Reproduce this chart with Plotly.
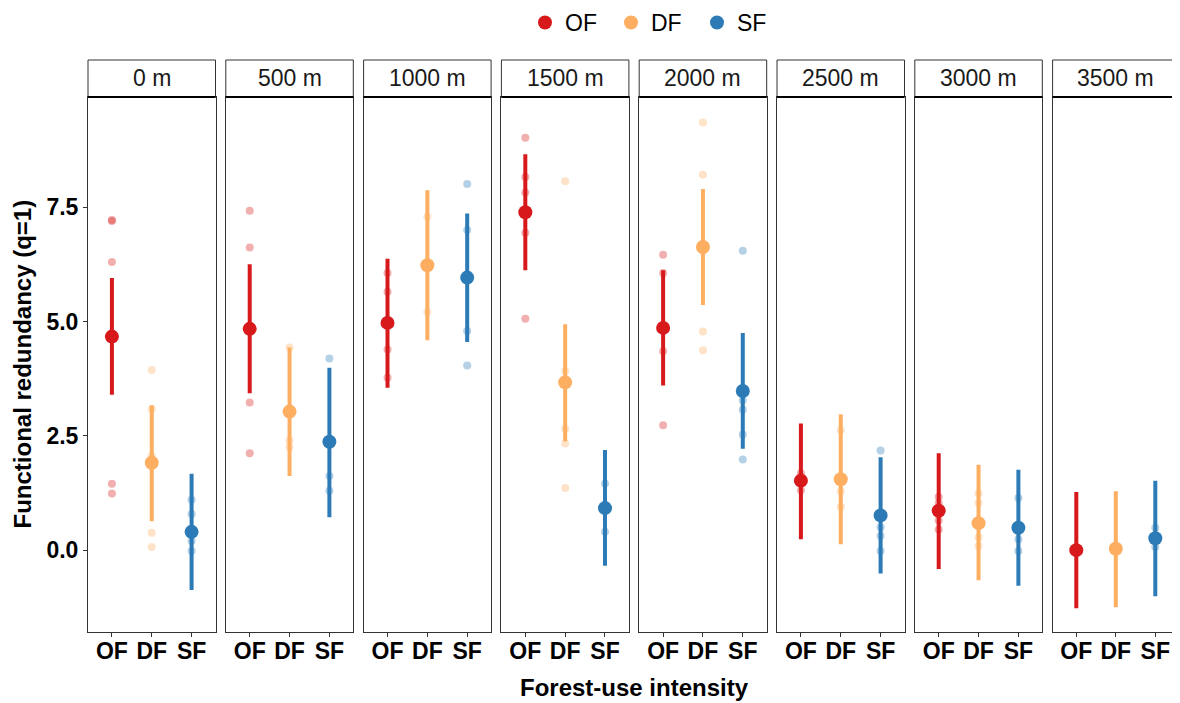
import plotly.graph_objects as go

# ---------------- data ----------------
distances = ["0 m", "500 m", "1000 m", "1500 m", "2000 m", "2500 m", "3000 m", "3500 m"]
groups = ["OF", "DF", "SF"]

mean_OF = [4.67, 4.84, 4.97, 7.39, 4.86, 1.52, 0.86, 0.00]
lo_OF = [3.40, 3.43, 3.55, 6.12, 3.60, 0.24, -0.41, -1.27]
hi_OF = [5.95, 6.25, 6.37, 8.66, 6.12, 2.77, 2.12, 1.27]

mean_DF = [1.91, 3.03, 6.23, 3.67, 6.63, 1.55, 0.59, 0.03]
lo_DF = [0.63, 1.62, 4.59, 2.38, 5.36, 0.13, -0.66, -1.25]
hi_DF = [3.17, 4.43, 7.87, 4.94, 7.90, 2.97, 1.87, 1.29]

mean_SF = [0.40, 2.37, 5.96, 0.92, 3.48, 0.76, 0.49, 0.26]
lo_SF = [-0.87, 0.72, 4.55, -0.34, 2.22, -0.51, -0.78, -1.01]
hi_SF = [1.67, 3.99, 7.36, 2.19, 4.75, 2.03, 1.76, 1.52]

raw_OF = [
    [7.22, 7.20, 6.30, 1.45, 1.24],
    [7.42, 6.62, 3.23, 2.12],
    [6.06, 5.65, 4.39, 3.77],
    [9.02, 8.16, 7.82, 6.94, 5.06],
    [6.46, 6.06, 4.35, 2.73],
    [1.68, 1.60, 1.31],
    [1.16, 1.03, 0.65, 0.45],
    [0.00, 0.00],
]
raw_DF = [
    [3.94, 3.08, 2.06, 0.38, 0.07],
    [4.43, 2.40, 2.25],
    [7.29, 5.21],
    [8.07, 3.92, 2.65, 2.33, 1.36],
    [9.35, 8.21, 6.55, 4.78, 4.37],
    [2.62, 1.48, 1.29, 0.95],
    [1.24, 1.03, 0.28, 0.09],
    [0.03],
]
raw_SF = [
    [1.10, 0.79, 0.20, -0.02],
    [4.19, 1.62, 1.30],
    [8.01, 7.00, 4.79, 4.04],
    [1.46, 0.40],
    [6.55, 3.28, 3.07, 2.53, 1.98],
    [2.18, 0.50, 0.31, -0.02],
    [1.14, 0.24, -0.02],
    [0.49, 0.07],
]

y_ticks = [0.0, 2.5, 5.0, 7.5]
y_tick_text = ["0.0", "2.5", "5.0", "7.5"]

# ---------------- style ----------------
colors = {"OF": "#D7191C", "DF": "#FDAE61", "SF": "#2C7BB6"}
W, H = 1180, 703
OFF = 8  # default page body margin
FONT = "Liberation Sans, Arial, sans-serif"
AXCOL = "#333333"

series = {
    "OF": (mean_OF, lo_OF, hi_OF, raw_OF),
    "DF": (mean_DF, lo_DF, hi_DF, raw_DF),
    "SF": (mean_SF, lo_SF, hi_SF, raw_SF),
}


def px_x(x):
    return min(max((x - OFF) / W, 0.0), 1.0)


def px_y(y):
    return min(max(1 - (y - OFF) / H, 0.0), 1.0)


panel_left0 = 88.0
panel_pitch = 137.8
panel_w = 127.5
panel_top, panel_bot = 97.0, 632.0
strip_top = 60.0

fig = go.Figure()
layout = {}
shapes = []
annotations = []

for i, dist in enumerate(distances):
    n = "" if i == 0 else str(i + 1)
    xa, ya = "x" + n, "y" + n
    x0 = panel_left0 + i * panel_pitch
    x1 = min(x0 + panel_w, 1179)
    layout["xaxis" + n] = dict(
        domain=[px_x(x0), px_x(x1)],
        anchor=ya,
        type="category",
        categoryorder="array",
        categoryarray=groups,
        range=[-0.6, 2.6],
        showline=True, mirror=True, linecolor=AXCOL, linewidth=1,
        ticks="outside", ticklen=4, tickcolor=AXCOL, tickwidth=1,
        ticklabelstandoff=-6,
        tickfont=dict(family=FONT, size=23, color="black", weight="bold"),
        showgrid=False, zeroline=False, fixedrange=True,
    )
    layout["yaxis" + n] = dict(
        domain=[px_y(panel_bot), px_y(panel_top)],
        anchor=xa,
        range=[-1.79, 9.91],
        showline=True, mirror=True, linecolor=AXCOL, linewidth=1,
        ticks="outside" if i == 0 else "", ticklen=4, tickcolor=AXCOL,
        tickvals=y_ticks, ticktext=y_tick_text,
        showticklabels=(i == 0),
        tickfont=dict(family=FONT, size=23, color="black", weight="bold"),
        showgrid=False, zeroline=False, fixedrange=True,
    )
    if i > 0:
        layout["yaxis" + n]["matches"] = "y"

    # strip box
    shapes.append(dict(type="rect", xref="paper", yref="paper",
                       x0=px_x(x0), x1=px_x(x1), y0=px_y(panel_top), y1=px_y(strip_top),
                       fillcolor="white", line=dict(color=AXCOL, width=1), layer="below"))
    shapes.append(dict(type="line", xref="paper", yref="paper",
                       x0=px_x(x0), x1=px_x(x1), y0=px_y(panel_top), y1=px_y(panel_top),
                       line=dict(color="black", width=2)))
    annotations.append(dict(text=dist, xref="paper", yref="paper",
                            x=px_x((x0 + x1) / 2), y=px_y((strip_top + panel_top) / 2),
                            xanchor="center", yanchor="middle", showarrow=False,
                            font=dict(family=FONT, size=23, color="#1a1a1a")))

    for g in groups:
        mean, lo, hi, raw = series[g]
        pts = raw[i]
        fig.add_trace(go.Scatter(
            x=[g] * len(pts), y=pts, xaxis=xa, yaxis=ya, mode="markers",
            marker=dict(color=colors[g], size=8, opacity=0.35, line=dict(width=0)),
            showlegend=False, hoverinfo="y"))
        fig.add_trace(go.Scatter(
            x=[g], y=[mean[i]], xaxis=xa, yaxis=ya, mode="markers",
            marker=dict(color=colors[g], size=14, line=dict(width=0)),
            error_y=dict(type="data", symmetric=False,
                         array=[hi[i] - mean[i]], arrayminus=[mean[i] - lo[i]],
                         color=colors[g], thickness=4, width=0),
            name=g, legendgroup=g, showlegend=(i == 0)))

annotations.append(dict(text="<b>Functional redundancy (q=1)</b>", xref="paper", yref="paper",
                        x=px_x(22), y=px_y((panel_top + panel_bot) / 2), textangle=-90,
                        xanchor="center", yanchor="middle", showarrow=False,
                        font=dict(family=FONT, size=24, color="black")))
annotations.append(dict(text="<b>Forest-use intensity</b>", xref="paper", yref="paper",
                        x=px_x(634), y=px_y(687),
                        xanchor="center", yanchor="middle", showarrow=False,
                        font=dict(family=FONT, size=24, color="black")))

fig.update_layout(
    **layout,
    width=W, height=H,
    margin=dict(l=0, r=0, t=0, b=0, autoexpand=False),
    paper_bgcolor="white", plot_bgcolor="white",
    shapes=shapes, annotations=annotations,
    showlegend=True,
    legend=dict(orientation="h", x=(654 - OFF) / W, xanchor="center",
                y=1 + 7 / H, yanchor="top",
                font=dict(family=FONT, size=23, color="black"),
                itemwidth=30, entrywidth=41, tracegroupgap=0, bgcolor="rgba(0,0,0,0)"),
)

fig.write_html("out.html")
